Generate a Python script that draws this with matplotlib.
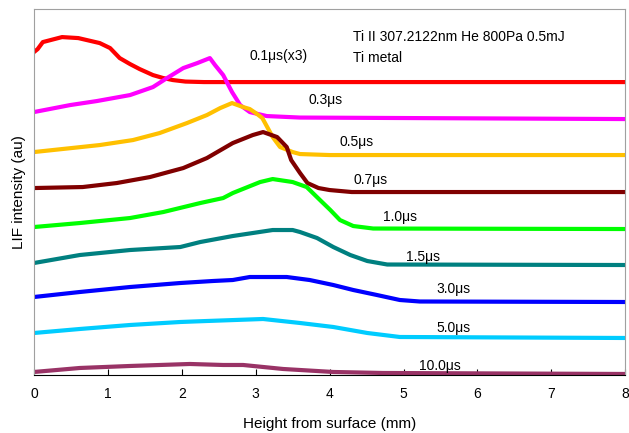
import matplotlib.pyplot as plt

plt.rcParams['font.family'] = ['Liberation Sans', 'DejaVu Sans']

# LIF profiles (x in mm, y in arbitrary units, offset per delay)
x_01 = [0, 0.05, 0.12, 0.38, 0.6, 0.89, 1.03, 1.16, 1.30, 1.43, 1.61, 1.75, 1.88, 2.05, 2.3, 8]
y_01 = [323, 326, 333, 338, 337, 332, 327, 317, 311, 306, 300, 297, 295, 293.5, 293, 293]

x_03 = [0, 0.49, 0.85, 1.30, 1.61, 1.80, 2.02, 2.21, 2.38, 2.45, 2.56, 2.68, 2.79, 2.92, 3.15, 3.6, 8]
y_03 = [263, 270, 274, 280, 288, 297, 307, 312, 317, 310, 300, 283, 270, 263, 259, 257.5, 256]

x_05 = [0, 0.89, 1.34, 1.70, 2.07, 2.34, 2.52, 2.68, 2.83, 2.92, 3.02, 3.09, 3.23, 3.33, 3.50, 3.60, 4.0, 8]
y_05 = [223, 230, 235, 242, 252, 260, 267, 272, 268, 266, 261, 257, 238, 228, 223, 221, 220, 220]

x_07 = [0, 0.66, 1.12, 1.57, 2.02, 2.34, 2.69, 2.96, 3.10, 3.29, 3.42, 3.48, 3.60, 3.70, 3.85, 4.0, 4.3, 8]
y_07 = [187, 188, 192, 198, 207, 217, 232, 240, 243, 238, 228, 215, 202, 192, 187, 185, 183, 183]

x_10 = [0, 0.62, 1.30, 1.75, 2.25, 2.56, 2.69, 3.06, 3.23, 3.50, 3.69, 3.87, 4.01, 4.14, 4.32, 4.59, 8]
y_10 = [148, 152, 157, 163, 172, 177, 182, 193, 196, 193, 188, 175, 165, 155, 149, 146.5, 146]

x_15 = [0, 0.62, 1.30, 1.98, 2.25, 2.69, 3.23, 3.50, 3.60, 3.83, 4.05, 4.28, 4.51, 4.78, 8]
y_15 = [112, 120, 125, 128, 133, 139, 145, 145, 143, 137, 128, 120, 114, 110.5, 110]

x_30 = [0, 0.62, 1.30, 1.98, 2.42, 2.69, 2.92, 3.42, 3.73, 4.05, 4.32, 4.64, 4.95, 5.22, 8]
y_30 = [78, 83, 88, 92, 94, 95, 98, 98, 95, 90, 85, 80, 75, 73.5, 73]

x_50 = [0, 0.62, 1.30, 1.98, 2.34, 3.10, 3.60, 4.05, 4.51, 4.95, 8]
y_50 = [42, 46, 50, 53, 54, 56, 52, 48, 42, 38, 37]

x_100 = [0, 0.62, 1.30, 2.11, 2.56, 2.83, 3.37, 4.05, 4.72, 8]
y_100 = [3, 7, 9, 11, 10, 10, 6, 3, 2, 1]

labels = ['0.1μs(x3)', '0.3μs', '0.5μs', '0.7μs', '1.0μs', '1.5μs', '3.0μs', '5.0μs', '10.0μs']
label_x = [2.92, 3.71, 4.14, 4.32, 4.72, 5.03, 5.45, 5.45, 5.21]
label_y = [319, 275, 233, 195, 158, 118, 86, 47, 9]
colors = ['#FF0000', '#FF00FF', '#FFC000', '#800000', '#00FF00',
          '#008080', '#0000FF', '#00CCFF', '#993366']

series = [(x_01, y_01), (x_03, y_03), (x_05, y_05), (x_07, y_07), (x_10, y_10),
          (x_15, y_15), (x_30, y_30), (x_50, y_50), (x_100, y_100)]

fig = plt.figure(figsize=(6.29, 4.33), dpi=100)
ax = fig.add_axes([0.054, 0.134, 0.940, 0.845])

for (xs, ys), c in zip(series, colors):
    ax.plot(xs, ys, color=c, lw=3.0, solid_joinstyle='round')

for t, tx, ty in zip(labels, label_x, label_y):
    ax.text(tx, ty, t, fontsize=10, ha='left', va='center')

ax.text(4.32, 338, 'Ti II 307.2122nm He 800Pa 0.5mJ', fontsize=10, va='center')
ax.text(4.32, 317, 'Ti metal', fontsize=10, va='center')

ax.set_xlim(0, 8)
ax.set_ylim(0, 366)
ax.set_xticks(range(9))
ax.set_yticks([])
ax.tick_params(axis='x', direction='in', length=4, labelsize=10, pad=9)
ax.set_xlabel('Height from surface (mm)', fontsize=11, labelpad=11)
ax.set_ylabel('LIF intensity (au)', fontsize=11, labelpad=6)

for s in ['top', 'right', 'left']:
    ax.spines[s].set_color('#A0A0A0')
ax.spines['bottom'].set_color('black')

plt.savefig('out.png', dpi=100)
